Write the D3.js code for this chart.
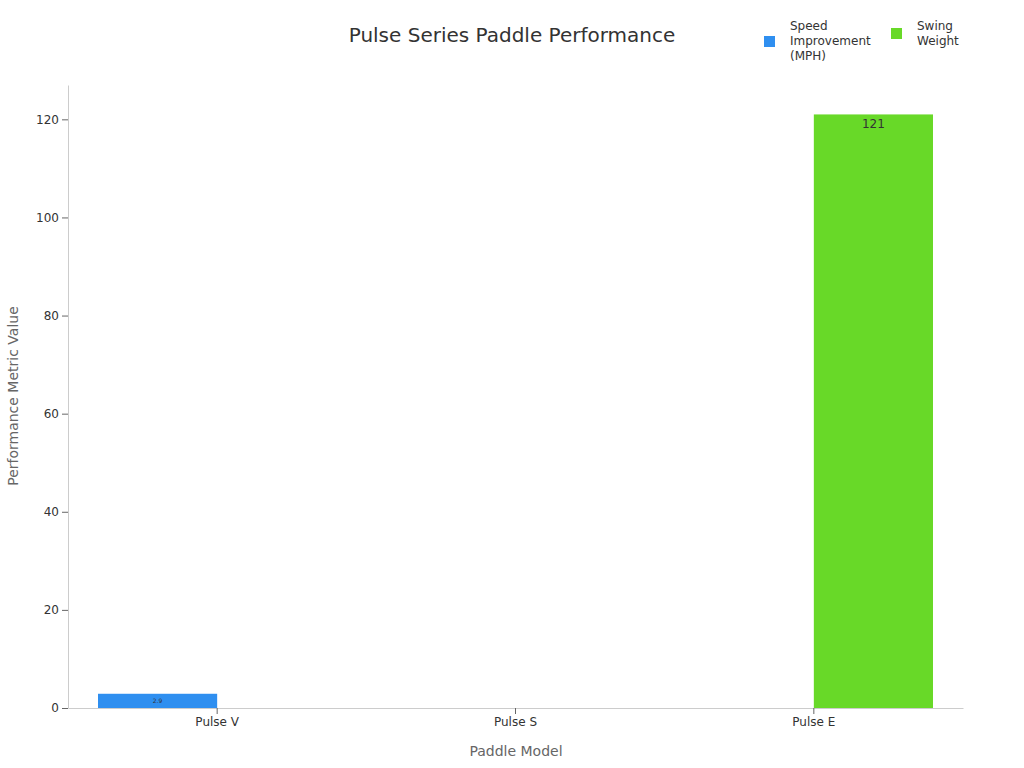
<!DOCTYPE html><html><head><meta charset="utf-8">
<script src="https://cdn.jsdelivr.net/npm/d3@7"></script>
<style>body{margin:0;background:#fff;font-family:"DejaVu Sans",sans-serif}</style></head><body>
<svg id="c" width="1024" height="768"></svg>
<script>
const categories=["Pulse V","Pulse S","Pulse E"];
const seriesNames=["Speed Improvement (MPH)","Swing Weight"];
const speedValues=[2.9,null,null];
const swingValues=[null,null,121];
const yTicks=[0,20,40,60,80,100,120];
const colors=["#2f8ff0","#68d928"];
const svg=d3.select("#c");
const m={l:68,r:963,t:85,b:708};
const x=d3.scaleBand().domain(categories).range([m.l,m.r]).paddingInner(0).paddingOuter(0);
const xs=d3.scaleBand().domain([0,1]).range([0,x.bandwidth()]).padding(0).paddingOuter(0.25);
const xsub=d3.scaleBand().domain([0,1]).range([30,x.bandwidth()-30]);
const y=d3.scaleLinear().domain([0,127]).range([m.b,m.t]);
const ax=svg.append("g").attr("transform",`translate(0,${m.b})`).call(d3.axisBottom(x).tickSizeOuter(0));
ax.select(".domain").attr("stroke","#ccc");ax.selectAll("line").attr("stroke","#666");
ax.selectAll("text").attr("font-size",12).attr("fill","#333").attr("font-family","DejaVu Sans");
const ay=svg.append("g").attr("transform",`translate(${m.l},0)`).call(d3.axisLeft(y).tickValues(yTicks).tickSizeOuter(0));
ay.select(".domain").attr("stroke","#ccc");ay.selectAll("line").attr("stroke","#666");
ay.selectAll("text").attr("font-size",12).attr("fill","#333").attr("font-family","DejaVu Sans");
const series=[speedValues,swingValues];
series.forEach((vals,si)=>{
 categories.forEach((c,i)=>{
  const v=vals[i]; if(v==null)return;
  const bx=x(c)+xsub(si), bw=xsub.bandwidth();
  svg.append("rect").attr("x",bx).attr("y",y(v)).attr("width",bw).attr("height",y(0)-y(v)).attr("fill",colors[si]);
  const big=v>20;
  svg.append("text").attr("x",bx+bw/2).attr("y",big?y(v)+14:(y(v)+y(0))/2+2).attr("text-anchor","middle")
   .attr("font-size",big?12:6).attr("fill","#333").text(v);
 });
});
svg.append("text").attr("x",512).attr("y",42).attr("text-anchor","middle").attr("font-size",20).attr("fill","#333").text("Pulse Series Paddle Performance");
svg.append("text").attr("x",516).attr("y",756).attr("text-anchor","middle").attr("font-size",14).attr("fill","#666").text("Paddle Model");
svg.append("text").attr("transform","translate(18,396) rotate(-90)").attr("text-anchor","middle").attr("font-size",14).attr("fill","#666").text("Performance Metric Value");
const lg=[{x:764,lines:["Speed","Improvement","(MPH)"]},{x:891,lines:["Swing","Weight"]}];
lg.forEach((l,i)=>{
 svg.append("rect").attr("x",l.x).attr("y",i==0?36:28).attr("width",11).attr("height",11).attr("fill",colors[i]);
 const t=svg.append("text").attr("font-size",12).attr("fill","#333");
 l.lines.forEach((s,j)=>t.append("tspan").attr("x",l.x+26).attr("y",30+j*15).text(s));
});
</script></body></html>
